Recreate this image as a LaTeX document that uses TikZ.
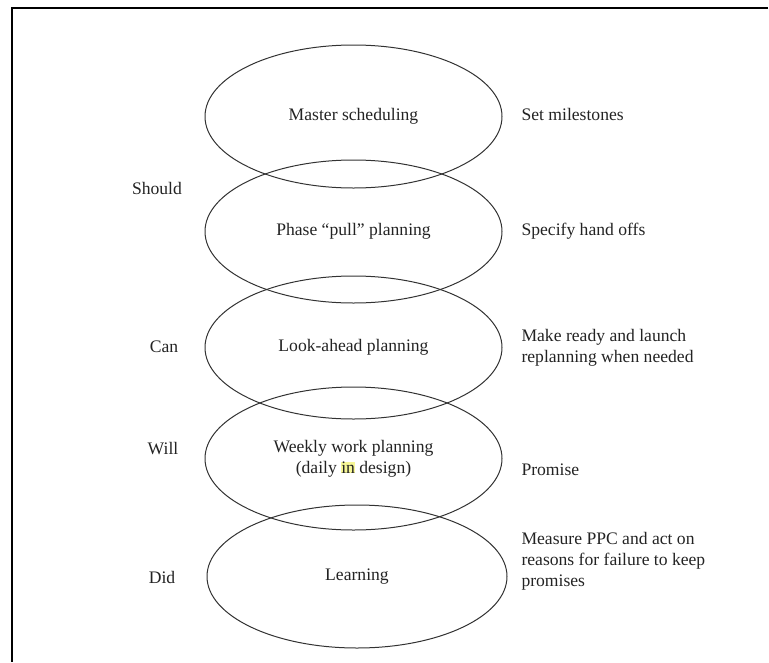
\documentclass[tikz,border=0pt]{standalone}
\usepackage{fontspec}
\setmainfont{Liberation Serif}
\usetikzlibrary{shapes.geometric}
\definecolor{inkgray}{RGB}{50,50,50}
\definecolor{textink}{RGB}{35,35,35}
\definecolor{hilite}{RGB}{246,246,150}
\tikzset{
  stage/.style={ellipse, draw=inkgray, line width=1pt, inner sep=0pt,
    minimum width=297pt, minimum height=143pt, align=center,
    text=textink, font=\fontsize{17.6}{21}\selectfont},
  level/.style={anchor=center, text=textink, font=\fontsize{17.6}{21}\selectfont},
  action/.style={anchor=west, align=left, text=textink, font=\fontsize{17.6}{21}\selectfont},
  frameline/.style={line width=2pt, black}
}
\begin{document}
\begin{tikzpicture}[x=1pt, y=-1pt]
  \useasboundingbox (0,0) rectangle (769,662);
  % open frame: top and left rules
  \coordinate (fa) at (768,8);
  \coordinate (fb) at (12,8);
  \coordinate (fc) at (12,662);
  \draw[frameline] (fa) -- (fb) -- (fc);

  % planning levels, stacked and overlapping
  \node[stage] (master) at (353.5,116.5) {Master scheduling};
  \node[stage] (phase)  at (353.5,231.5) {Phase “pull” planning};
  \node[stage] (look)   at (353.5,347.5) {Look-ahead planning};
  \node[stage] (weekly) at (353.5,458.5) {Weekly work planning\\(daily {\setlength\fboxsep{0pt}\colorbox{hilite}{in}} design)};
  \node[stage, minimum width=300pt] (learn) at (357,576.5) {Learning};

  % left-hand labels
  \node[level] (should) at (157,188) {Should};
  \node[level] (can)    at (164,347) {Can};
  \node[level] (will)   at (163,449) {Will};
  \node[level] (did)    at (162,577) {Did};

  % right-hand actions
  \node[action] (milestones) at (518,114) {Set milestones};
  \node[action] (handoffs)   at (518,231) {Specify hand offs};
  \node[action] (ready)      at (518,347.5) {Make ready and launch\\replanning when needed};
  \node[action] (promise)    at (518,470) {Promise};
  \node[action] (measure)    at (518,561.5) {Measure PPC and act on\\reasons for failure to keep\\promises};
\end{tikzpicture}
\end{document}
